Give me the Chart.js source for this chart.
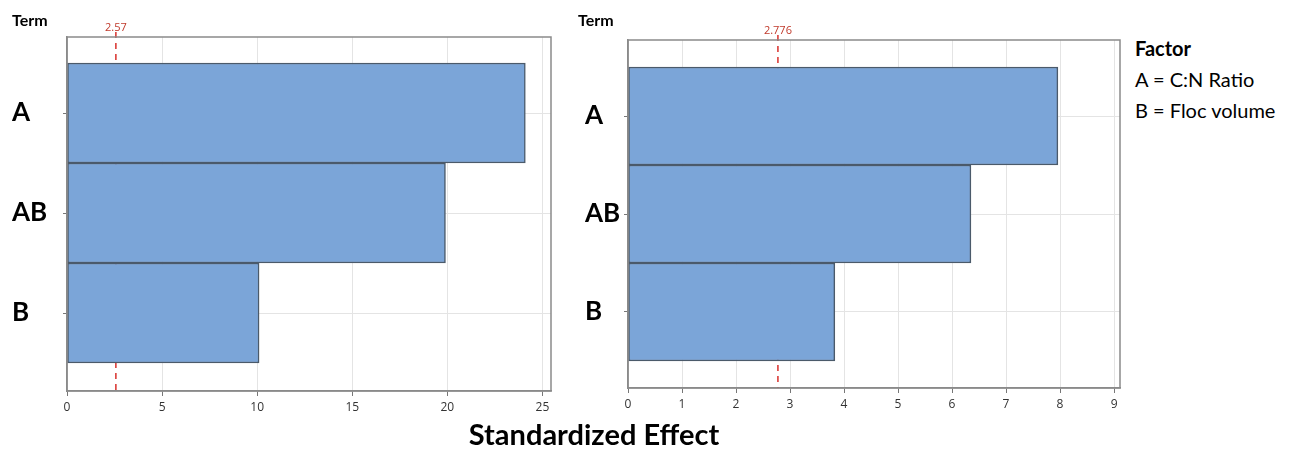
<!DOCTYPE html>
<html>
<head>
<meta charset="utf-8">
<script src="https://cdn.jsdelivr.net/npm/chart.js@4/dist/chart.umd.min.js"></script>
<style>
  html, body { margin: 0; padding: 0; background: #fff; }
  body { width: 1299px; height: 452px; position: relative; overflow: hidden; font-family: Lato, "Open Sans", sans-serif; }
  .cv { position: absolute; top: 0; }
  .txt { position: absolute; color: #000; white-space: nowrap; }
  .term { font-weight: bold; font-size: 16px; top: 10px; }
  .xtitle { font-weight: bold; font-size: 29px; left: 0; width: 1188px; text-align: center; top: 417px; line-height: 34px; }
  .legend { left: 1135px; top: 33px; font-size: 20px; line-height: 31px; }
  .legend b { font-size: 20px; }
</style>
</head>
<body>
<div class="cv" style="left:0;width:562px;height:452px;"><canvas id="c1"></canvas></div>
<div class="cv" style="left:560px;width:570px;height:452px;"><canvas id="c2"></canvas></div>
<div class="txt term" style="left:12px;">Term</div>
<div class="txt term" style="left:578px;">Term</div>
<div class="txt xtitle">Standardized Effect</div>
<div class="txt legend"><b>Factor</b><br>A = C:N Ratio<br>B = Floc volume</div>
<script>
// ---- data ----
const terms = ['A', 'AB', 'B'];
const effectsLeft = [24.1, 19.9, 10.1];
const effectsRight = [7.96, 6.35, 3.83];
const criticalLeft = 2.57;
const criticalRight = 2.776;
const criticalLabelLeft = '2.57';
const criticalLabelRight = '2.776';
const xTicksLeft = [0, 5, 10, 15, 20, 25];
const xTicksRight = [0, 1, 2, 3, 4, 5, 6, 7, 8, 9];
const termTicks = [0, 1, 2];

const framePlugin = {
  id: 'frameCrit',
  beforeDatasetsDraw(chart, args, opts) {
    const { ctx, chartArea: a, scales } = chart;
    const px = scales.x.getPixelForValue(opts.crit);
    ctx.save();
    ctx.strokeStyle = '#d9302c';
    ctx.lineWidth = 1.5;
    ctx.setLineDash([6, 5]);
    ctx.beginPath();
    ctx.moveTo(px, a.top - 5);
    ctx.lineTo(px, a.bottom);
    ctx.stroke();
    ctx.setLineDash([]);
    ctx.fillStyle = '#c0392b';
    ctx.font = '11px "Open Sans"';
    ctx.textAlign = 'center';
    ctx.textBaseline = 'bottom';
    ctx.fillText(opts.label, px, a.top - 4);
    ctx.restore();
  },
  afterDraw(chart) {
    const { ctx, chartArea: a } = chart;
    ctx.save();
    ctx.strokeStyle = '#8a8a8a';
    ctx.lineWidth = 1.5;
    ctx.strokeRect(a.left, a.top, a.right - a.left, a.bottom - a.top);
    ctx.restore();
  }
};

function makeChart(id, values, xTicks, xMax, yMin, yMax, crit, critLabel, pad, yWidth, xHeight) {
  return new Chart(document.getElementById(id), {
    type: 'bar',
    data: {
      datasets: [{
        data: terms.map((t, i) => ({ x: values[i], y: i })),
        backgroundColor: '#7ba5d8',
        borderColor: '#4b5a6a',
        borderWidth: 1.5,
        borderSkipped: false,
        barPercentage: 1,
        categoryPercentage: 1
      }]
    },
    options: {
      indexAxis: 'y',
      responsive: true,
      maintainAspectRatio: false,
      animation: false,
      layout: { padding: pad },
      plugins: {
        legend: { display: false },
        tooltip: { enabled: false },
        frameCrit: { crit: crit, label: critLabel }
      },
      scales: {
        x: {
          type: 'linear',
          min: 0,
          max: xMax,
          offset: false,
          afterBuildTicks: ax => { ax.ticks = xTicks.map(v => ({ value: v })); },
          afterFit: ax => { ax.height = xHeight; },
          grid: { offset: false, color: '#e4e4e4', lineWidth: 1, tickLength: 5, tickColor: '#777' },
          border: { color: '#8a8a8a', width: 1.5 },
          ticks: { color: '#333', font: { family: 'Open Sans', size: 12 }, padding: 4, maxRotation: 0 }
        },
        y: {
          type: 'linear',
          reverse: true,
          offset: false,
          min: yMin,
          max: yMax,
          afterBuildTicks: ax => { ax.ticks = termTicks.map(v => ({ value: v })); },
          afterFit: ax => { ax.width = yWidth; },
          grid: { offset: false, color: '#e4e4e4', lineWidth: 1, tickLength: 4, tickColor: '#777' },
          border: { color: '#8a8a8a', width: 1.5 },
          ticks: {
            color: '#000',
            crossAlign: 'far',
            font: { family: 'Lato', size: 26, weight: 'bold' },
            callback: v => terms[v] ?? ''
          }
        }
      }
    },
    plugins: [framePlugin]
  });
}

makeChart('c1', effectsLeft, xTicksLeft, 25.45, -0.76, 2.78, criticalLeft, criticalLabelLeft,
  { left: 12, top: 37, right: 11, bottom: 0 }, 55, 61);
makeChart('c2', effectsRight, xTicksRight, 9.11, -0.776, 2.776, criticalRight, criticalLabelRight,
  { left: 25, top: 40, right: 10, bottom: 0 }, 43, 64);
</script>
</body>
</html>
